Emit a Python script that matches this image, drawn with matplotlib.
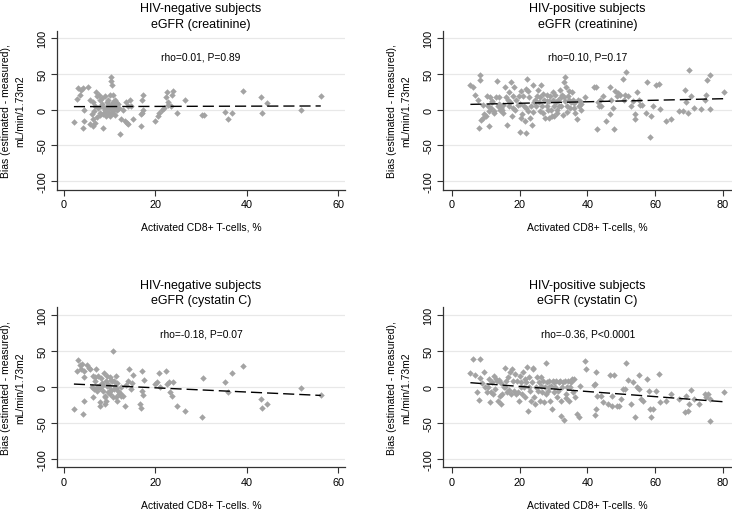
import matplotlib
matplotlib.use('Agg')
import matplotlib.pyplot as plt
import numpy as np

plt.rcParams['font.family'] = ['Liberation Sans', 'DejaVu Sans']
plt.rcParams['axes.unicode_minus'] = False

# ---------------- data ----------------
xlabel = 'Activated CD8+ T-cells, %'
ylabel = 'Bias (estimated - measured),\nmL/min/1.73m2'
yticks = [-100, -50, 0, 50, 100]
ytick_labels = ['-100', '-50', '0', '50', '100']
xticks_neg = [0, 20, 40, 60]
xticks_pos = [0, 20, 40, 60, 80]

titles = ['HIV-negative subjects\neGFR (creatinine)',
          'HIV-positive subjects\neGFR (creatinine)',
          'HIV-negative subjects\neGFR (cystatin C)',
          'HIV-positive subjects\neGFR (cystatin C)']
rho_texts = ['rho=0.01, P=0.89', 'rho=0.10, P=0.17',
             'rho=-0.18, P=0.07', 'rho=-0.36, P<0.0001']

# fitted line (intercept, slope)
fit_intercepts = [4.2, 6.8, 4.8, 8.0]
fit_slopes = [0.017, 0.106, -0.293, -0.355]

neg_cr_x = [2.2, 2.8, 3.2, 3.6, 3.7, 4.2, 4.2, 4.5, 4.4, 5.3, 5.7, 6.1, 5.8, 6.3, 6.4, 6.8,
            6.4, 6.8, 7.0, 7.3, 7.6, 7.9, 8.2, 7.9, 8.6, 9.0, 9.0, 8.6, 9.2, 9.7, 9.5, 10.1,
            10.4, 10.4, 10.6, 10.8, 10.8, 11.0, 10.8, 11.2, 10.4, 9.9, 9.3, 11.3, 11.5, 11.7,
            12.3, 12.6, 13.0, 13.4, 13.9, 14.1, 13.6, 14.1, 14.5, 14.6, 15.2, 16.8, 16.8, 17.0,
            17.4, 17.4, 17.0, 19.9, 20.7, 20.9, 21.4, 21.8, 22.3, 22.5, 22.7, 22.8, 23.6, 23.9,
            23.4, 24.7, 26.5, 30.3, 30.7, 35.3, 35.8, 36.7, 39.1, 43.1, 43.3, 44.4, 51.9, 56.2,
            7.5, 8.0, 8.4, 8.8, 9.1, 9.4, 9.6, 9.8, 10.0, 10.2, 10.5, 10.7, 10.9, 11.1, 11.4,
            11.8, 12.0, 7.2, 8.3, 6.6]
neg_cr_y = [-17.7, 14.4, 30.7, 21, 28, 30, -25, 0, -16, 32, 14, -5.6, -20, -13.5, -23, -18,
            10, 5, 24, 19, 21, 14, 5, -4, -25, 19, 0, -6.5, -9, 14, 5, 21,
            46, 40, 34, 21, 10, 5, 0, 14, -4, -6.5, -2, 10, 5, 0,
            -33.5, -13.5, 0, -16, -18, -20, 10, 5, 14, 5, -13.5, -23, -6.5, 14,
            21, 0, -4, -16, -9, -4, 0, 3, 17, 24, 10, 7, 21, 26,
            5, -4, 13.5, -8, -8, -3, -13.5, -4, 26.5, 18, -4, 9, 0, 18.6,
            2, -8, 8, 3, -3, 10, -1, 7, -9, 2, 8, -5, 3, -8, 1,
            8, 3, -10, 16, -2]

pos_cr_x = [5.5, 6.4, 7.0, 7.7, 7.9, 8.2, 8.3, 8.7, 9.2, 9.3, 9.6, 10.1, 10.3, 10.6, 10.9, 11.3,
            11.6, 11.9, 12.4, 12.6, 13.1, 13.4, 13.6, 13.9, 14.1, 14.6, 14.9, 15.1, 15.6, 16.0,
            16.3, 16.5, 16.8, 17.2, 17.5, 17.8, 18.0, 18.5, 18.8, 19.0, 19.5, 19.8, 20.0, 20.3,
            20.5, 20.8, 21.0, 21.3, 21.5, 21.8, 22.0, 22.2, 22.4, 22.6, 22.9, 23.1, 23.4, 23.7,
            23.9, 24.2, 24.6, 24.9, 25.2, 25.4, 25.7, 25.9, 26.4, 26.7, 26.9, 27.3, 27.6, 28.0,
            28.1, 28.3, 28.6, 28.8, 29.1, 29.3, 29.6, 29.8, 30.1, 30.3, 30.6, 30.8, 31.1, 31.3,
            31.6, 31.8, 32.1, 32.3, 32.6, 32.8, 33.0, 33.3, 33.5, 33.8, 34.0, 34.3, 34.5, 34.7,
            35.0, 35.2, 35.5, 35.7, 36.2, 36.5, 36.9, 37.2, 37.5, 37.9, 38.2, 39.2, 42.1, 42.6,
            42.8, 43.1, 43.4, 43.6, 44.1, 44.6, 45.5, 46.6, 46.8, 47.1, 47.5, 48.0, 48.3, 48.7,
            49.0, 49.7, 50.5, 50.7, 51.0, 51.5, 52.0, 53.0, 53.5, 54.0, 54.2, 54.6, 55.2, 55.6,
            56.2, 57.2, 57.7, 58.6, 58.9, 59.4, 60.4, 61.1, 61.5, 63.1, 64.7, 67.2, 68.2, 68.7,
            69.0, 69.7, 69.9, 70.6, 71.4, 73.6, 74.6, 75.1, 75.3, 76.1, 76.1, 80.2,
            12.0, 15.0, 18.0, 20.0, 24.0, 26.0, 28.0, 31.0, 33.0, 36.0, 14.0, 22.0, 27.0,
            30.0, 34.0, 38.0, 17.0, 11.0]
pos_cr_y = [35, 32, 21, 14, -25, 42, 48, -14, 7, -11, -6.5, -9, 19, 5, -23, 18,
            3, 10, -2, -4, 18, 40, 5, 18, 0, 3, -0.5, 6, 31, 18,
            -21, 14, 5, 11, 38, -9, 19, 32, 0, 14, 7, 19, -31, -11,
            26, -6.5, 19, 5, -16, 29, -33, 43, -2, 26, 17, -11, 5, -22,
            35, 10, 14, 5, 19, 28, 10, -2, 34, 5, -4, 14, -11, 5,
            21, 0, -11, 12, 19, 0, -9, 14, 5, -9, 21, 10, -4, 14,
            5, 27, 17, 5, 21, -8, 39, 45, 12, 31, 5, 19, 26, 14,
            3, 10, 24, 14, 9, -4, -12.5, 14, 5, 12, 0, 17, 32, 31,
            -26.5, 10, 5, 14, 5, 19, -16, -6.5, 32, 14, 3, -27, 26, 19,
            23, 21, 43, 14, 21, 52.5, 19, 5, 12, -6.5, -12.5, 24, 14, 7,
            7, -4, 39, -38, -9, 5, 35, 36, 1.5, -16, -12.5, -2, -2, 28,
            10, -4, 56, 19, 3, 0.5, 14, 21, 42, 48, 1.5, 25,
            12, -5, 3, 8, -3, 18, 12, 0, 18, 3, 8, 2, 22,
            25, -3, 8, 25, -2]

neg_cy_x = [2.2, 2.8, 3.2, 3.5, 3.7, 3.9, 4.2, 4.4, 4.4, 4.4, 5.1, 5.5, 5.7, 6.1, 6.3, 6.4,
            6.6, 6.8, 7.0, 7.2, 7.3, 7.5, 7.7, 7.9, 8.0, 8.2, 8.5, 8.6, 8.8, 9.0, 9.2, 9.3,
            9.5, 9.7, 9.9, 10.1, 10.2, 10.4, 10.7, 10.8, 10.9, 11.2, 11.3, 11.5, 11.7, 11.9,
            12.1, 12.4, 12.6, 13.0, 13.4, 13.7, 14.1, 14.3, 14.6, 14.8, 15.2, 16.6, 16.9, 17.0,
            17.2, 17.5, 17.4, 19.9, 20.3, 20.9, 21.0, 22.3, 22.5, 22.9, 23.2, 23.6, 23.8, 24.7,
            26.5, 30.2, 30.5, 35.3, 35.8, 36.7, 39.1, 43.1, 43.3, 44.4, 51.9, 56.2,
            7.8, 8.3, 9.1, 9.6, 10.0, 10.5, 11.0, 11.6, 12.2, 6.9, 8.9, 10.3, 11.4, 9.4]
neg_cy_y = [-30, 22, 37, 30, 25, 32, -37, 23, -19, 14, 30, 27, 25, 0, -14, 16,
            -3, 9, 25, 0, -6, 16, 2, -27, -21, 12.5, 3, -5, 20, -24, 9, -19,
            2, -7, 2, 13.5, -10, -4, 50, -13.5, 9, 2, -14, 16, -19, -5,
            -10, 0, -12, -12, -27, 3, 9, 25, -3, 5, 17, -24, -29, 22,
            -5, 10, -11, 4, 6.5, 20, 0, 22, 4, 6.5, -7.5, -12, 7.5, -26,
            -33, -42, 12.5, 7.5, -6.5, 20, 29, -16, -29, -24, -2, -10.7,
            -2, 6, -12, 4, -6, 8, -3, 5, -8, 14, -14, 10, -1, 16]

pos_cy_x = [5.5, 6.4, 7.0, 7.5, 8.2, 7.9, 8.4, 9.0, 9.6, 9.9, 10.3, 10.6, 10.9, 11.3, 11.6, 11.9,
            12.1, 12.6, 12.9, 13.1, 13.4, 13.6, 13.9, 14.1, 14.4, 14.6, 14.9, 15.3, 15.6, 15.8,
            16.0, 16.3, 16.5, 16.8, 17.2, 17.5, 17.8, 18.0, 18.3, 18.7, 19.0, 19.2, 19.5, 19.8,
            20.0, 20.3, 20.5, 20.8, 21.0, 21.2, 21.5, 21.7, 22.0, 22.2, 22.4, 22.7, 22.9, 23.2,
            23.4, 23.7, 23.9, 24.1, 24.4, 24.7, 24.9, 25.2, 25.4, 25.7, 25.9, 26.2, 26.4, 26.7,
            26.9, 27.2, 27.4, 27.7, 27.9, 28.1, 28.3, 28.6, 28.8, 29.1, 29.3, 29.6, 29.8, 30.1,
            30.3, 30.6, 30.8, 31.1, 31.3, 31.6, 31.8, 32.1, 32.3, 32.6, 32.8, 33.0, 33.3, 33.6,
            33.8, 34.1, 34.3, 34.5, 34.9, 35.2, 35.5, 35.7, 36.2, 36.5, 36.9, 37.5, 37.9, 39.2,
            39.7, 41.9, 42.2, 42.4, 42.6, 42.8, 42.6, 44.1, 44.6, 46.1, 46.6, 47.3, 47.9, 47.4,
            48.7, 49.3, 50.0, 50.5, 51.0, 51.5, 52.0, 53.0, 53.5, 54.0, 54.6, 55.2, 55.4, 55.9,
            56.4, 57.7, 58.2, 58.6, 58.9, 59.4, 60.4, 61.1, 61.5, 63.1, 64.7, 67.2, 68.7, 69.0,
            69.7, 69.9, 70.6, 71.6, 73.1, 74.6, 75.1, 75.6, 76.1, 76.1, 80.2]
pos_cy_y = [19.5, 39, 17, -7.5, 39, -18, 12.5, 5, 20.5, 0, -7.5, 0, 11, -21, -7.5, 6.5,
            -10, 16, -3, 11, 9, -19, 10, -12, 5, -24, -9, 0, 26.5, 0,
            9, -7.5, 13.5, -4, 20.5, -10, 25, 9, -5, 18, -9, 9, -7.5, -19,
            16, 0, 7.5, -10, 20.5, 0, 11, -14, 6.5, 28, -34, 14.5, 0, -5,
            -19, 6.5, 25, 26.5, -14, -24, 0, 13.5, -6, 6.5, -19, 2, 14.5, -7.5,
            9, -21, 0.5, 34, -10, 6.5, -5, 0, 9, -19, 2, -31, 8, -7.5,
            7.5, 0.5, 9, -14, -5, 6.5, 9, -40, -19, 0, 6.5, -45.6, 9, -15,
            -10, 0, 8, -19, 0, 6.5, 11, -7.5, 11, -14, -38, -42, 2, 36,
            25, 3, 4, -39, -31, -12, 21, -12, -21, -24, 17, -26, 17, -12,
            -26, -26, -17, -3, -3, 33, 10, -24, 6.5, -42, 0.5, 17, -3, -17,
            -19, 11, -5, -31, -41, -31, -5, 18, -21, -19, -10, -17, -35, -12,
            -33, -24, -4, -17, -23, -10, -14, -10, -47, -17, -7.5]

# ---------------- figure ----------------
W, H = 732, 510
fig = plt.figure(figsize=(W / 100, H / 100), dpi=100)


def px_axes(l, t, r, b):
    return fig.add_axes([l / W, 1 - b / H, (r - l) / W, (b - t) / H])


panels = [
    (px_axes(57, 31.7, 345, 190.7), neg_cr_x, neg_cr_y, xticks_neg, (-1.5, 61.5), (-111.7, 110.2)),
    (px_axes(443.3, 31.7, 732, 190.7), pos_cr_x, pos_cr_y, xticks_pos, (-2.5, 82.7), (-111.7, 110.2)),
    (px_axes(57, 308.3, 345, 468.3), neg_cy_x, neg_cy_y, xticks_neg, (-1.5, 61.5), (-111.7, 111.0)),
    (px_axes(443.3, 308.3, 732, 468.3), pos_cy_x, pos_cy_y, xticks_pos, (-2.5, 82.7), (-111.7, 111.0)),
]

for i, (ax, xs, ys, xt, xl, yl) in enumerate(panels):
    ax.set_xlim(*xl)
    ax.set_ylim(*yl)
    ax.set_xticks(xt)
    ax.set_xticklabels([str(v) for v in xt], fontsize=7.8)
    ax.set_yticks(yticks)
    ax.set_yticklabels(ytick_labels, rotation=90, va='center', fontsize=7.8)
    ax.tick_params(axis='both', length=4, width=0.8, color='#333333', pad=3)
    ax.grid(axis='y', color='#E8E8E8', lw=0.9)
    ax.set_axisbelow(True)
    for s in ('top', 'right'):
        ax.spines[s].set_visible(False)
    for s in ('left', 'bottom'):
        ax.spines[s].set_linewidth(0.9)
        ax.spines[s].set_color('#333333')

    ax.plot(xs, ys, linestyle='none', marker='D', ms=3.3, color='#A3A3A3', mec='none', zorder=3)

    xx = np.array([min(xs), max(xs)])
    ax.plot(xx, fit_intercepts[i] + fit_slopes[i] * xx, color='black', lw=1.0,
            dashes=(8, 3.6), zorder=4)

    ax.text(0.5, 74, rho_texts[i], transform=ax.get_xaxis_transform() if False else
            matplotlib.transforms.blended_transform_factory(ax.transAxes, ax.transData),
            ha='center', va='center', fontsize=7.4)

    ax.set_title(titles[i], fontsize=9, pad=3, linespacing=1.35)
    ax.set_xlabel(xlabel, fontsize=7.5)
    ax.xaxis.set_label_coords(0.5, -37.0 / 159.0)
    ax.xaxis.label.set_va('center')
    ax.set_ylabel(ylabel, fontsize=7.5, linespacing=1.5)
    w = (345 - 57)
    ax.yaxis.set_label_coords(-44.0 / w if i in (0, 2) else -44.0 / (732 - 443.3), 0.5)
    ax.yaxis.label.set_va('center')
    ax.yaxis.label.set_ha('center')

fig.savefig('out.png', dpi=100, facecolor='white')
